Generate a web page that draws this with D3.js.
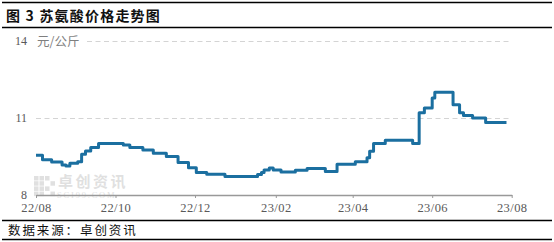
<!DOCTYPE html>
<html>
<head>
<meta charset="utf-8">
<script src="https://cdn.jsdelivr.net/npm/d3@7/dist/d3.min.js"></script>
<style>
  body { margin: 0; background: #fff; }
  svg { display: block; }
</style>
</head>
<body>
<div id="chart"></div>
<script>
const width = 554;
const height = 242;

// change points of the price (yuan/kg), drawn as steps
const dates = [
  "2022-08-01", "2022-08-06", "2022-08-13", "2022-08-21", "2022-08-24", "2022-08-27",
  "2022-09-02", "2022-09-05", "2022-09-08", "2022-09-12", "2022-09-18", "2022-10-07",
  "2022-10-12", "2022-10-22", "2022-10-30", "2022-11-09", "2022-11-18", "2022-11-26",
  "2022-12-02", "2022-12-10", "2022-12-24", "2023-01-18", "2023-01-21", "2023-01-23",
  "2023-01-27", "2023-01-30", "2023-02-05", "2023-02-16", "2023-02-25", "2023-03-11",
  "2023-03-20", "2023-04-03", "2023-04-12", "2023-04-14", "2023-04-17", "2023-04-26",
  "2023-05-17", "2023-05-22", "2023-05-26", "2023-06-01", "2023-06-03", "2023-06-17",
  "2023-06-22", "2023-06-25", "2023-07-02", "2023-07-12", "2023-07-28"
];
const prices = [
  9.55, 9.37, 9.29, 9.17, 9.13, 9.24,
  9.30, 9.59, 9.71, 9.85, 10.01, 9.95,
  9.85, 9.75, 9.63, 9.50, 9.27, 9.06,
  8.88, 8.81, 8.72, 8.80, 8.88, 8.97,
  9.05, 8.97, 8.90, 8.96, 9.03, 8.92,
  9.20, 9.30, 9.45, 9.70, 10.01, 10.13,
  10.01, 11.20, 11.39, 11.78, 12.00, 11.52,
  11.20, 11.10, 11.00, 10.82, 10.82
];
const yTicks = [8, 11, 14];
const xTicks = ["2022-08-01", "2022-10-01", "2022-12-01", "2023-02-01", "2023-04-01", "2023-06-01", "2023-08-01"];

const parse = d3.timeParse("%Y-%m-%d");
const data = dates.map((d, i) => ({ date: parse(d), value: prices[i] }));

const svg = d3.select("#chart")
  .append("svg")
  .attr("width", width)
  .attr("height", height);

const x = d3.scaleTime()
  .domain([parse(xTicks[0]), parse(xTicks[xTicks.length - 1])])
  .range([36, 511.7]);

const y = d3.scaleLinear()
  .domain([8, 14])
  .range([195, 41]);

// frame lines: top, under title, above and below source
[2.5, 27.5, 220.5, 239.5].forEach((yy, i) => {
  svg.append("line").attr("x1", 2).attr("x2", 552).attr("y1", yy).attr("y2", yy)
    .attr("stroke", "#000").attr("stroke-width", i === 0 ? 1.5 : 1.3);
});

// title
svg.append("text")
  .attr("x", 6)
  .attr("y", 21)
  .attr("font-family", "Noto Sans CJK SC")
  .attr("font-weight", 700)
  .attr("font-size", 14)
  .attr("letter-spacing", 1.2)
  .attr("fill", "#111")
  .text("图 3 苏氨酸价格走势图");

// source
svg.append("text")
  .attr("x", 8)
  .attr("y", 235)
  .attr("font-family", "Noto Sans CJK SC")
  .attr("font-size", 12.5)
  .attr("letter-spacing", 1.9)
  .attr("fill", "#111")
  .text("数据来源：卓创资讯");

// watermark
const wm = svg.append("g").attr("opacity", 0.3);
for (let r = 0; r < 4; r++) {
  for (let c = 0; c < 4; c++) {
    if ((r + c) % 2 === 0 || c < 2) {
      wm.append("rect")
        .attr("x", 34 + c * 5.5).attr("y", 176 + r * 5.2)
        .attr("width", 4.5).attr("height", 4.5)
        .attr("fill", "#9a9a9a");
    }
  }
}
wm.append("text")
  .attr("x", 58).attr("y", 187)
  .attr("font-family", "Noto Sans CJK SC")
  .attr("font-size", 15)
  .attr("font-weight", 700)
  .attr("letter-spacing", 2.5)
  .attr("fill", "#9a9a9a")
  .text("卓创资讯");
wm.append("text")
  .attr("x", 57).attr("y", 197.5)
  .attr("font-family", "Liberation Serif")
  .attr("font-size", 8.5)
  .attr("letter-spacing", 1.8)
  .attr("fill", "#9a9a9a")
  .text("SCI99.COM");

// gridlines
svg.selectAll(".grid")
  .data(yTicks.filter(v => v > 8))
  .enter().append("line")
  .attr("class", "grid")
  .attr("x1", 36)
  .attr("x2", 512)
  .attr("y1", d => Math.round(y(d)) + 0.5)
  .attr("y2", d => Math.round(y(d)) + 0.5)
  .attr("stroke", "#d4d4d4")
  .attr("stroke-dasharray", "5,3.5");

// y axis labels
const yAxis = svg.append("g")
  .attr("transform", "translate(27,0)")
  .call(d3.axisLeft(y).tickValues(yTicks).tickFormat(d3.format("d")).tickSize(0).tickPadding(0));
yAxis.select(".domain").remove();
yAxis.selectAll("text")
  .attr("font-family", "Liberation Serif")
  .attr("font-size", 12)
  .attr("fill", "#595959");

// unit label with white backing over the top gridline
svg.append("rect")
  .attr("x", 34).attr("y", 33).attr("width", 52).attr("height", 16)
  .attr("fill", "#fff");
svg.append("text")
  .attr("x", 37)
  .attr("y", 45.5)
  .attr("font-family", "Noto Sans CJK SC")
  .attr("font-size", 12.5)
  .attr("fill", "#7f7f7f")
  .text("元/公斤");

// x axis
const xAxis = svg.append("g")
  .attr("transform", "translate(0,195)")
  .call(d3.axisBottom(x)
    .tickValues(xTicks.map(parse))
    .tickFormat(d3.timeFormat("%y/%m"))
    .tickSize(3)
    .tickSizeOuter(0)
    .tickPadding(5));
xAxis.select(".domain").attr("stroke", "#999").attr("stroke-width", 1.5);
xAxis.selectAll(".tick line").attr("stroke", "#999");
xAxis.selectAll("text")
  .attr("font-family", "Liberation Serif")
  .attr("font-size", 12.5)
  .attr("letter-spacing", 0.4)
  .attr("fill", "#595959");

// price line
const line = d3.line()
  .x(d => x(d.date))
  .y(d => y(d.value))
  .curve(d3.curveStepAfter);

svg.append("path")
  .datum(data)
  .attr("fill", "none")
  .attr("stroke", "#1b6fa0")
  .attr("stroke-width", 3)
  .attr("stroke-linejoin", "round")
  .attr("d", line);
</script>
</body>
</html>
